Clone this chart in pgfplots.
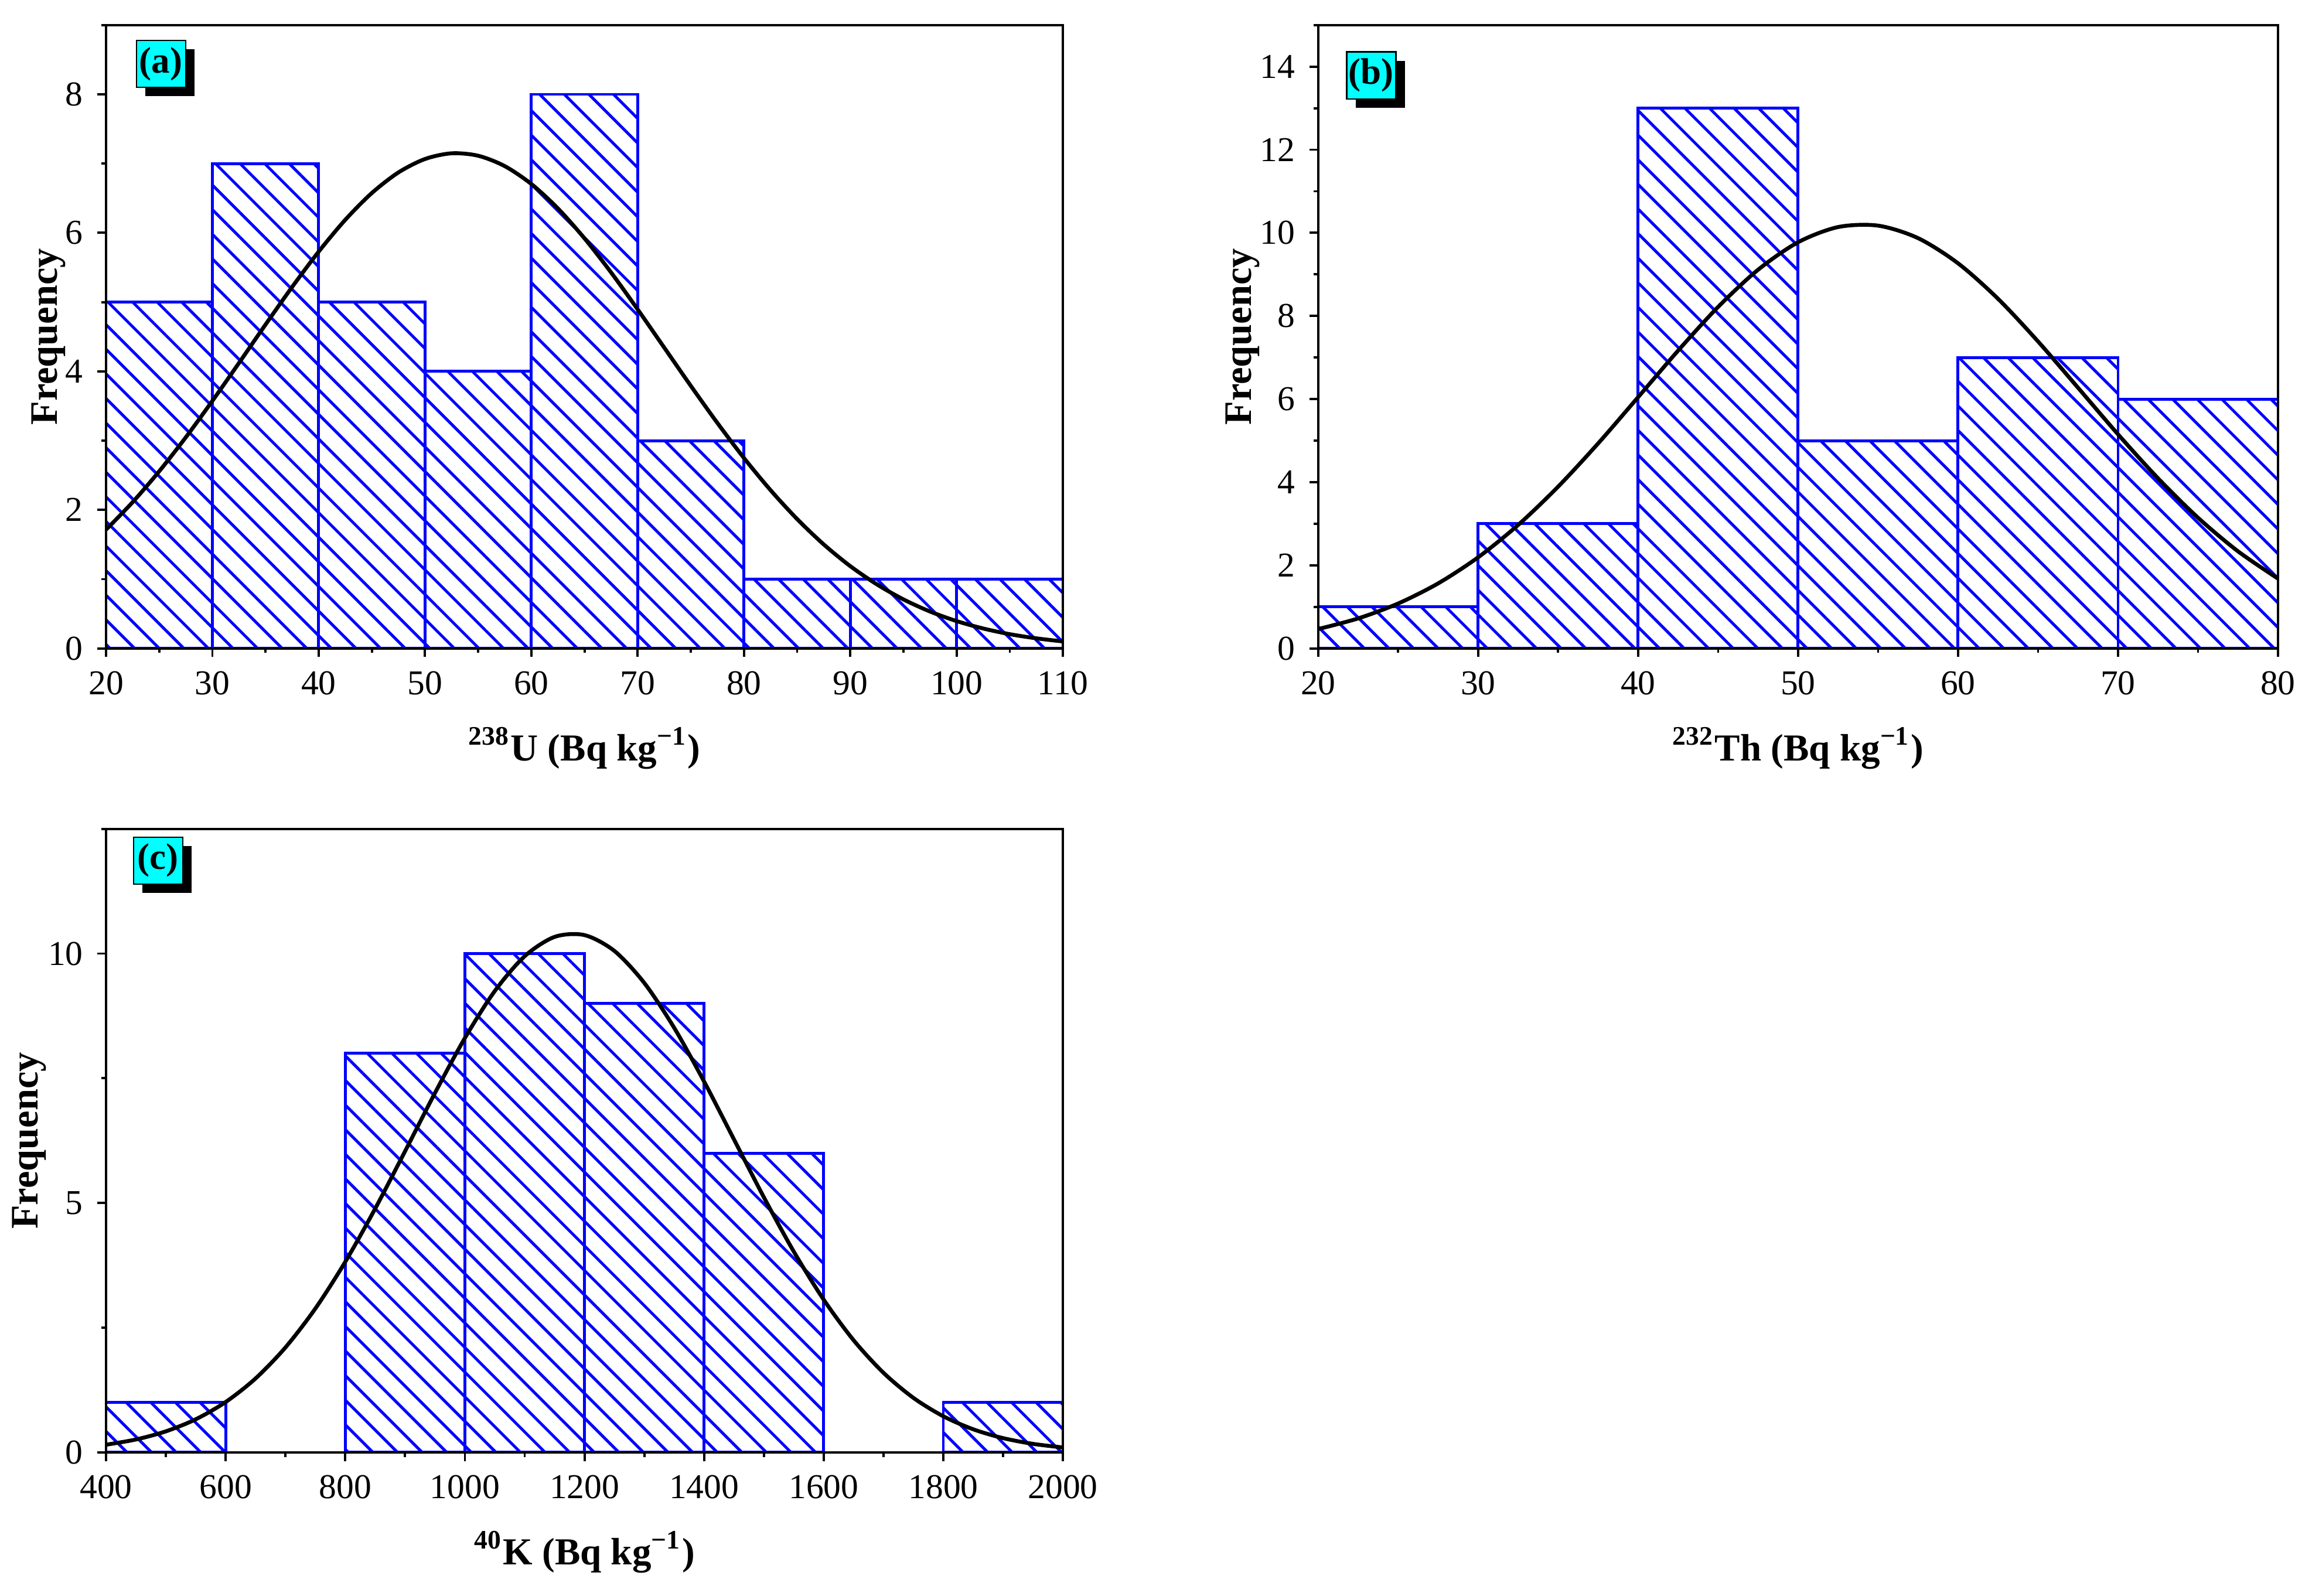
\documentclass[border=0pt]{standalone}
\usepackage{fontspec}
\setmainfont{Liberation Serif}
\usepackage{pgfplots}
\pgfplotsset{compat=1.18}
\usetikzlibrary{patterns.meta}
\definecolor{boxcyan}{RGB}{0,255,255}
\definecolor{barblue}{RGB}{0,0,255}

\pgfplotsset{
  hist/.style={
    scale only axis, width=233.3pt, height=152pt, ymin=0,
    tick align=outside, tick pos=left,
    major tick length=2.1pt, minor tick length=1.1pt,
    axis line style={line width=0.55pt, black},
    tick style={line width=0.55pt, black},
    axis on top,
    scaled ticks=false,
    /pgf/number format/1000 sep={},
    /pgf/number format/assume math mode=true,
    ticklabel style={font=\fontsize{8.5}{9}\selectfont},
    every axis x label/.style={at={(axis description cs:0.5,-0.16)}, anchor=center, font=\bfseries\fontsize{9.3}{11}\selectfont},
  },
  ylab/.style={every axis y label/.style={at={(axis description cs:#1,0.5)}, rotate=90, anchor=center, font=\bfseries\fontsize{9.5}{11}\selectfont}},
  bars/.style={ybar interval, draw=barblue, line width=0.7pt,
    pattern={Lines[angle=-45,distance=4.24pt,line width=0.7pt]}, pattern color=barblue},
  fit/.style={black, line width=0.95pt, smooth},
}
\newcommand{\panellabel}[3]{%
  \node[anchor=north west, fill=black, minimum width=12pt, minimum height=11.5pt, inner sep=0pt, xshift=2.1pt, yshift=-2.1pt] at (rel axis cs:#1,#2) {};
  \node[anchor=north west, fill=boxcyan, draw=black, line width=0.3pt, minimum width=12pt, minimum height=11.5pt, inner sep=0pt, font=\bfseries\fontsize{9}{10}\selectfont] at (rel axis cs:#1,#2) {#3};
}

\begin{document}
\begin{tikzpicture}
\path[use as bounding box] (0,0) rectangle (563.7pt,389.1pt);

% (a)
\begin{axis}[hist, ylab=-0.060, at={(25.86pt,231pt)}, anchor=south west,
  xmin=20, xmax=110, ymax=9,
  xtick={20,30,...,110}, minor xtick={25,35,...,105},
  ytick={0,2,4,6,8}, minor ytick={1,3,5,7,9},
  xlabel={\textsuperscript{238}U (Bq kg\textsuperscript{−1})},
  ylabel={Frequency},
]
\addplot[bars] coordinates {(20,5) (30,7) (40,5) (50,4) (60,8) (70,3) (80,1) (90,1) (100,1) (110,0)};
\addplot[fit] coordinates {(20,1.715) (22.5,2.112) (25,2.558) (27.5,3.048) (30,3.574) (32.5,4.121) (35,4.676) (37.5,5.218) (40,5.729) (42.5,6.188) (45,6.575) (47.5,6.872) (50,7.066) (52.5,7.148) (55,7.113) (57.5,6.963) (60,6.705) (62.5,6.352) (65,5.920) (67.5,5.428) (70,4.895) (72.5,4.343) (75,3.791) (77.5,3.255) (80,2.749) (82.5,2.285) (85,1.868) (87.5,1.502) (90,1.188) (92.5,0.925) (95,0.708) (97.5,0.533) (100,0.395) (102.5,0.288) (105,0.206) (107.5,0.146) (110,0.101)};
\panellabel{0.031}{0.9765}{(a)}
\end{axis}

% (b)
\begin{axis}[hist, ylab=-0.079, at={(321.4pt,231pt)}, anchor=south west, width=234pt,
  xmin=20, xmax=80, ymax=15,
  xtick={20,30,...,80}, minor xtick={25,35,...,75},
  ytick={0,2,...,14}, minor ytick={1,3,...,15},
  xlabel={\textsuperscript{232}Th (Bq kg\textsuperscript{−1})},
  ylabel={Frequency},
]
\addplot[bars] coordinates {(20,1) (30,3) (40,13) (50,5) (60,7) (70,6) (80,0)};
\addplot[fit] coordinates {(20,0.467) (22.5,0.723) (25,1.082) (27.5,1.566) (30,2.194) (32.5,2.972) (35,3.894) (37.5,4.934) (40,6.047) (42.5,7.167) (45,8.218) (47.5,9.113) (50,9.774) (52.5,10.139) (55,10.173) (57.5,9.872) (60,9.266) (62.5,8.412) (65,7.386) (67.5,6.272) (70,5.152) (72.5,4.093) (75,3.145) (77.5,2.337) (80,1.680)};
\panellabel{0.029}{0.958}{(b)}
\end{axis}

% (c)
\begin{axis}[hist, ylab=-0.080, at={(25.86pt,35pt)}, anchor=south west,
  xmin=400, xmax=2000, ymax=12.5,
  xtick={400,600,...,2000}, minor xtick={500,700,...,1900},
  ytick={0,5,10}, minor ytick={2.5,7.5,12.5},
  xlabel={\textsuperscript{40}K (Bq kg\textsuperscript{−1})},
  ylabel={Frequency},
]
\addplot[bars] coordinates {(400,1) (600,0)};
\addplot[bars] coordinates {(800,8) (1000,10) (1200,9) (1400,6) (1600,0)};
\addplot[bars] coordinates {(1800,1) (2000,0)};
\addplot[fit] coordinates {(400,0.153) (450,0.258) (500,0.421) (550,0.663) (600,1.009) (650,1.482) (700,2.104) (750,2.884) (800,3.820) (850,4.887) (900,6.038) (950,7.206) (1000,8.307) (1050,9.250) (1100,9.948) (1150,10.335) (1200,10.371) (1250,10.053) (1300,9.411) (1350,8.511) (1400,7.434) (1450,6.273) (1500,5.112) (1550,4.024) (1600,3.060) (1650,2.247) (1700,1.594) (1750,1.092) (1800,0.723) (1850,0.462) (1900,0.285) (1950,0.170) (2000,0.098)};
\panellabel{0.028}{0.988}{(c)}
\end{axis}
\end{tikzpicture}
\end{document}
